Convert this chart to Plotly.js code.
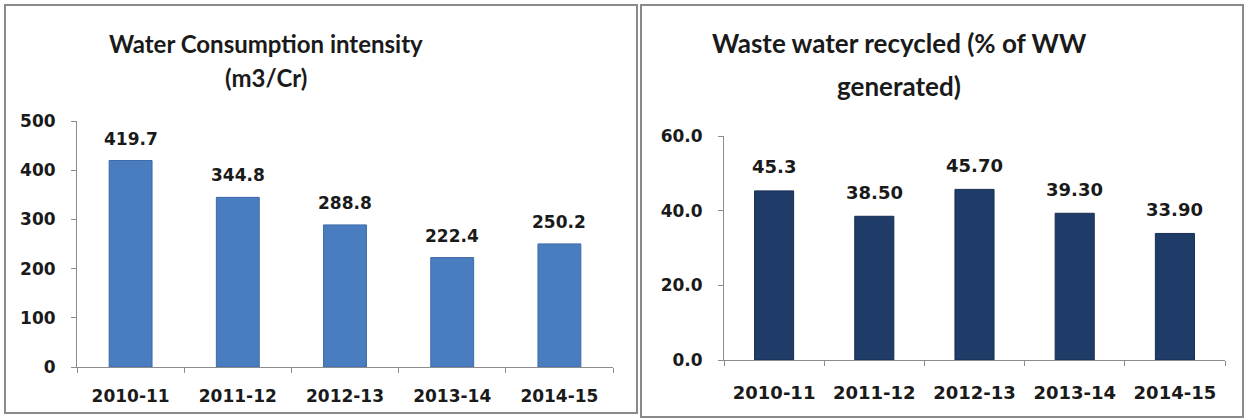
<!DOCTYPE html>
<html>
<head>
<meta charset="utf-8">
<script src="https://cdn.plot.ly/plotly-3.0.1.min.js"></script>
<style>html,body{margin:0;padding:0;background:#fff;}#chart{width:1245px;height:419px;}</style>
</head>
<body>
<div id="chart"></div>
<script>
// ---- data ----
var categories = ["2010-11", "2011-12", "2012-13", "2013-14", "2014-15"];
var consumptionValues = [419.7, 344.8, 288.8, 222.4, 250.2];
var consumptionLabels = ["419.7", "344.8", "288.8", "222.4", "250.2"];
var recycledValues = [45.3, 38.5, 45.7, 39.3, 33.9];
var recycledLabels = ["45.3", "38.50", "45.70", "39.30", "33.90"];
var leftTitleLines = ["Water Consumption intensity", "(m3/Cr)"];
var rightTitleLines = ["Waste water recycled (% of WW", "generated)"];
var leftTicks = [0, 100, 200, 300, 400, 500];
var rightTicks = [0, 20, 40, 60];
var rightTickText = ["0.0", "20.0", "40.0", "60.0"];

// ---- layout helpers ----
var W = 1245, H = 419;
function px(x) { return x / W; }
function py(y) { return (H - y) / H; }
var numFont = "DejaVu Sans, sans-serif";
var titleFont = "Lato, sans-serif";

var traces = [
  {type: "bar", x: categories, y: consumptionValues, xaxis: "x", yaxis: "y", width: 0.4,
   marker: {color: "#4a7dbf", line: {color: "#3d6aa8", width: 1}}, hoverinfo: "x+y"},
  {type: "bar", x: categories, y: recycledValues, xaxis: "x2", yaxis: "y2", width: 0.39,
   marker: {color: "#1f3b68", line: {color: "#172d52", width: 1}}, hoverinfo: "x+y"}
];

var annotations = [];
consumptionValues.forEach(function (v, i) {
  annotations.push({x: categories[i], y: v, xref: "x", yref: "y", text: consumptionLabels[i],
    showarrow: false, yanchor: "middle", yshift: 22,
    font: {family: numFont, size: 17, color: "#1a1a1a", weight: "bold"}});
});
recycledValues.forEach(function (v, i) {
  annotations.push({x: categories[i], y: v, xref: "x2", yref: "y2", text: recycledLabels[i],
    showarrow: false, yanchor: "middle", yshift: 24,
    font: {family: numFont, size: 18, color: "#1a1a1a", weight: "bold"}});
});
annotations.push({x: px(266), y: py(44), xref: "paper", yref: "paper", text: leftTitleLines[0],
  showarrow: false, xanchor: "center", yanchor: "middle",
  font: {family: titleFont, size: 24, color: "#1a1a1a", weight: "bold"}});
annotations.push({x: px(266), y: py(77), xref: "paper", yref: "paper", text: leftTitleLines[1],
  showarrow: false, xanchor: "center", yanchor: "middle",
  font: {family: titleFont, size: 24, color: "#1a1a1a", weight: "bold"}});
annotations.push({x: px(899), y: py(43), xref: "paper", yref: "paper", text: rightTitleLines[0],
  showarrow: false, xanchor: "center", yanchor: "middle",
  font: {family: titleFont, size: 26, color: "#1a1a1a", weight: "bold"}});
annotations.push({x: px(899), y: py(86), xref: "paper", yref: "paper", text: rightTitleLines[1],
  showarrow: false, xanchor: "center", yanchor: "middle",
  font: {family: titleFont, size: 26, color: "#1a1a1a", weight: "bold"}});

var axisCommon = {showline: true, linecolor: "#8c8c8c", linewidth: 1, showgrid: false, zeroline: false,
  ticks: "outside", tickcolor: "#8c8c8c", ticklen: 5, fixedrange: true};

var layout = {
  width: W, height: H, margin: {l: 0, r: 0, t: 0, b: 0},
  paper_bgcolor: "#ffffff", plot_bgcolor: "rgba(0,0,0,0)", showlegend: false,
  xaxis: Object.assign({}, axisCommon, {domain: [px(77), px(613)], anchor: "y", type: "category",
    tickson: "boundaries", ticklabelstandoff: 14,
    tickfont: {family: numFont, size: 17, color: "#1a1a1a", weight: "bold"}}),
  yaxis: Object.assign({}, axisCommon, {domain: [py(367), py(121)], anchor: "x", range: [0, 500],
    tickvals: leftTicks, ticklabelstandoff: 12,
    tickfont: {family: numFont, size: 17, color: "#1a1a1a", weight: "bold"}}),
  xaxis2: Object.assign({}, axisCommon, {domain: [px(724), px(1225)], anchor: "y2", type: "category",
    tickson: "boundaries", ticklabelstandoff: 16,
    tickfont: {family: numFont, size: 18, color: "#1a1a1a", weight: "bold"}}),
  yaxis2: Object.assign({}, axisCommon, {domain: [py(360), py(136)], anchor: "x2", range: [0, 60],
    tickvals: rightTicks, ticktext: rightTickText, ticklabelstandoff: 12,
    tickfont: {family: numFont, size: 17, color: "#1a1a1a", weight: "bold"}}),
  annotations: annotations,
  shapes: [
    {type: "rect", xref: "paper", yref: "paper", x0: px(5), x1: px(637), y0: py(413), y1: py(5),
     line: {color: "#8a8a8a", width: 2}},
    {type: "rect", xref: "paper", yref: "paper", x0: px(641), x1: px(1243), y0: py(417), y1: py(5),
     line: {color: "#8a8a8a", width: 2}}
  ]
};

Plotly.newPlot("chart", traces, layout, {displayModeBar: false, staticPlot: true});
</script>
</body>
</html>
